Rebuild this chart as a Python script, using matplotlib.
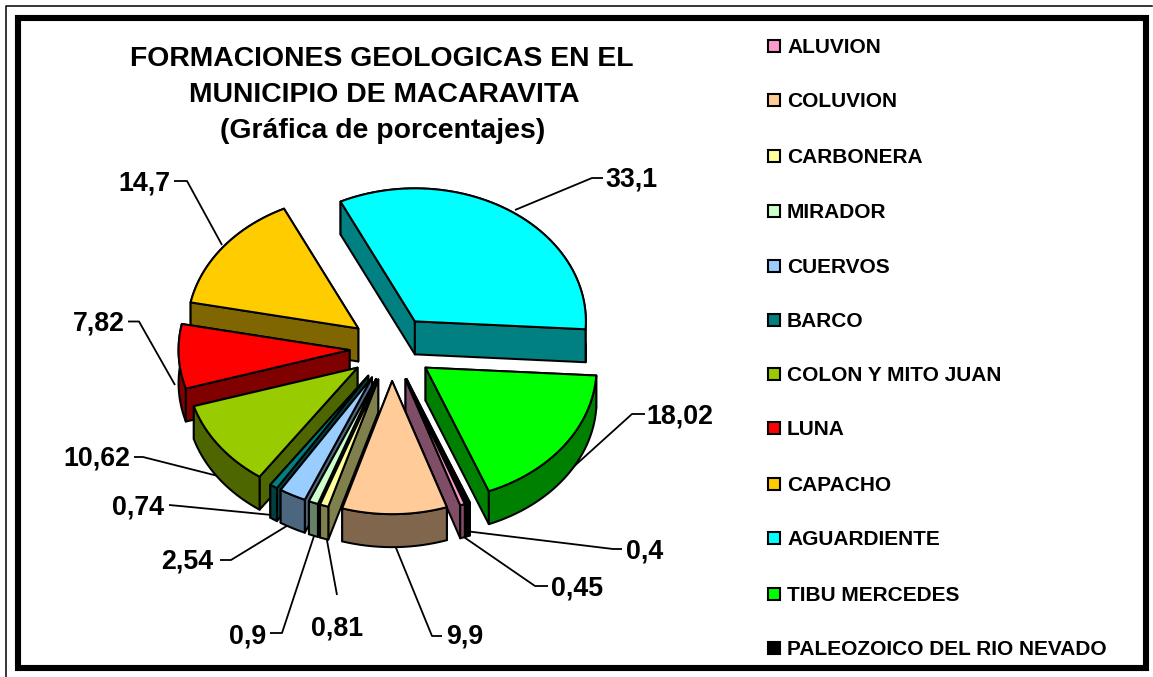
import numpy as np
import matplotlib
matplotlib.use("Agg")
import matplotlib.pyplot as plt
from matplotlib.patches import Polygon, Rectangle

plt.rcParams['font.family'] = ['Liberation Sans', 'DejaVu Sans']

# ---- data (in legend / clockwise order) ----
categories = ["ALUVION", "COLUVION", "CARBONERA", "MIRADOR", "CUERVOS", "BARCO",
              "COLON Y MITO JUAN", "LUNA", "CAPACHO", "AGUARDIENTE",
              "TIBU MERCEDES", "PALEOZOICO DEL RIO NEVADO"]
values = [0.45, 9.9, 0.81, 0.9, 2.54, 0.74, 10.62, 7.82, 14.7, 33.1, 18.02, 0.4]
value_labels = ["0,45", "9,9", "0,81", "0,9", "2,54", "0,74", "10,62", "7,82",
                "14,7", "33,1", "18,02", "0,4"]
colors = ["#FF99CC", "#FFCC99", "#FFFF99", "#CCFFCC", "#99CCFF", "#008080",
          "#99CC00", "#FF0000", "#FFCC00", "#00FFFF", "#00FF00", "#000000"]

# ---- layout ----
W, H = 1153, 677
CX, CY, RX, RY = 391.5, 348.5, 171, 133
EXPLODE, DEPTH = 42, 33
AGUA_END_ANGLE = -3.4
LW = 1.45
TEXT_DY = 1.5

# label anchors and leader-line paths, in pixels
label_pos = {
    "0,45": (577, 587), "9,9": (465, 635), "0,81": (337, 627), "0,9": (248, 635),
    "2,54": (187.5, 560), "0,74": (138, 506), "10,62": (97, 457), "7,82": (98.5, 322),
    "14,7": (144, 182), "33,1": (631, 178), "18,02": (680, 415), "0,4": (645, 550),
}
leaders = {
    "0,45": [(548, 586), (535, 586), (458, 533)],
    "9,9": [(442, 636), (432, 636), (394, 543)],
    "0,81": [(337, 595), (326, 535)],
    "0,9": [(270, 633), (282, 633), (315, 533)],
    "2,54": [(220, 560), (231, 560), (290, 524)],
    "0,74": [(169, 505), (180, 506), (272, 515)],
    "10,62": [(134, 457), (143, 457), (218, 476)],
    "7,82": [(128, 321.5), (139, 321.5), (175, 385)],
    "14,7": [(174, 181), (187, 181), (222, 245)],
    "33,1": [(603, 178), (592, 178), (515, 210)],
    "18,02": [(645, 414), (632, 414), (570, 470)],
    "0,4": [(622, 549), (613, 549), (465, 531)],
}

fig = plt.figure(figsize=(W / 100, H / 100), dpi=100)
ax = fig.add_axes([0, 0, 1, 1])
ax.set_xlim(0, W)
ax.set_ylim(H, 0)
ax.axis("off")

# frames
ax.plot([6, 6, W - 1], [H, 5.7, 5.7], color="black", lw=1.1, zorder=1)
ax.add_patch(Rectangle((18, 18), 1127.5, 650, fill=False, ec="black", lw=4.4, zorder=1))

# angles from the values
vals = np.array(values, dtype=float)
frac = vals / vals.sum() * 360.0
agua = categories.index("AGUARDIENTE")
start0 = AGUA_END_ANGLE + frac[:agua + 1].sum()   # clockwise start of first slice
ends = start0 - np.cumsum(frac)
starts = ends + frac


def shade(c):
    rgb = np.array(matplotlib.colors.to_rgb(c)) * 0.5
    return tuple(rgb)


slices = []
for i in range(len(vals)):
    mid = np.deg2rad((starts[i] + ends[i]) / 2)
    ax_ = CX + EXPLODE * np.cos(mid)
    ay_ = CY - EXPLODE * RY / RX * np.sin(mid)
    t = np.deg2rad(np.linspace(starts[i], ends[i], max(int(frac[i] / 2), 2) + 1))
    px = ax_ + RX * np.cos(t)
    py = ay_ - RY * np.sin(t)
    slices.append((i, ax_, ay_, px, py))

slices.sort(key=lambda s: (s[2] + s[4].mean()) / 2)

z = 2
for i, a_x, a_y, px, py in slices:
    dark = shade(colors[i])
    walls = []
    # radial walls
    for k in (0, -1):
        poly = [(a_x, a_y), (px[k], py[k]), (px[k], py[k] + DEPTH), (a_x, a_y + DEPTH)]
        walls.append(((a_y + py[k]) / 2, poly))
    # outer wall
    poly = list(zip(px, py)) + list(zip(px[::-1], py[::-1] + DEPTH))
    walls.append((py.mean(), poly))
    walls.sort(key=lambda w: w[0])
    for _, poly in walls:
        ax.add_patch(Polygon(poly, closed=True, fc=dark, ec="black", lw=LW, joinstyle="round", zorder=z))
        z += 1
    top = [(a_x, a_y)] + list(zip(px, py))
    ax.add_patch(Polygon(top, closed=True, fc=colors[i], ec="black", lw=LW, joinstyle="round", zorder=z))
    z += 1

# leaders + labels
for lab, pos in label_pos.items():
    pts = np.array(leaders[lab])
    ax.plot(pts[:, 0], pts[:, 1], color="black", lw=LW * 0.9, zorder=1, solid_capstyle="butt")
    ax.text(pos[0], pos[1] + TEXT_DY, lab, ha="center", va="center", fontsize=19.3,
            fontweight="bold", color="black", zorder=z + 1)

# title
for ty, tx, line in [(57, 381.5, "FORMACIONES GEOLOGICAS EN EL"),
                     (93, 384, "MUNICIPIO DE MACARAVITA"),
                     (130, 383, "(Gráfica de porcentajes)")]:
    ax.text(tx, ty + TEXT_DY, line, ha="center", va="center",
            fontsize=20.4, fontweight="bold", zorder=z + 1)

# legend
legend_y = [46, 100, 156, 211, 266, 320, 374, 428, 484, 538, 594, 648]
for yy, name, col in zip(legend_y, categories, colors):
    ax.add_patch(Rectangle((768, yy - 6), 12, 12, fc=col, ec="black", lw=1.5, zorder=z))
    ax.text(787, yy + 1.5, name, ha="left", va="center", fontsize=15, fontweight="bold", zorder=z + 1)

fig.savefig("out.png", dpi=100, facecolor="white")
